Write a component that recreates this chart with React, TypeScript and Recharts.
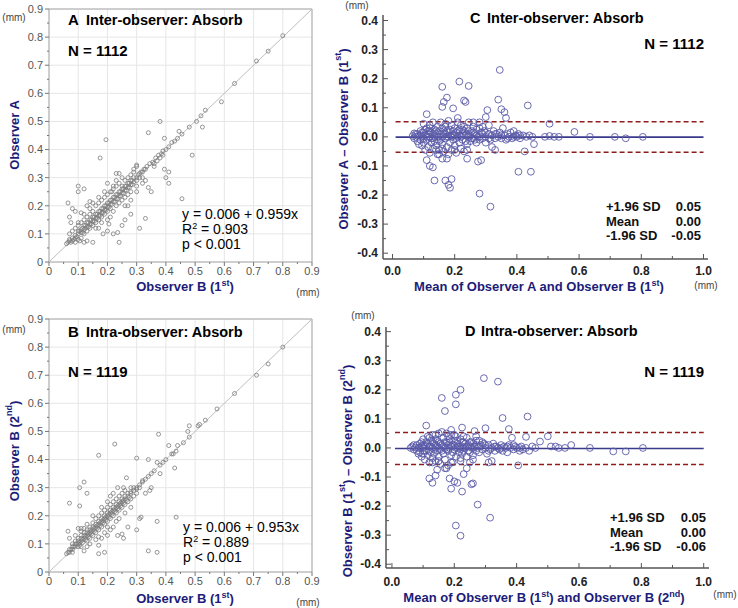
import {
  CartesianGrid,
  ReferenceArea,
  ReferenceLine,
  Scatter,
  ScatterChart,
  XAxis,
  YAxis,
} from "recharts";

// Panel A: x = Observer B (1st), y = Observer A  (mm)
const panelAPoints: [number, number][] = [
  [0.06, 0.065], [0.065, 0.07], [0.07, 0.075], [0.075, 0.07], [0.08, 0.085], [0.085, 0.08], [0.09, 0.095],
  [0.095, 0.09], [0.1, 0.1], [0.105, 0.11], [0.11, 0.105], [0.115, 0.12], [0.12, 0.115], [0.125, 0.13],
  [0.13, 0.125], [0.135, 0.14], [0.14, 0.135], [0.145, 0.15], [0.15, 0.145], [0.155, 0.16], [0.16, 0.155],
  [0.165, 0.17], [0.17, 0.165], [0.175, 0.18], [0.18, 0.175], [0.185, 0.19], [0.19, 0.185], [0.195, 0.2],
  [0.2, 0.195], [0.205, 0.21], [0.21, 0.205], [0.215, 0.22], [0.22, 0.215], [0.225, 0.23], [0.23, 0.225],
  [0.235, 0.24], [0.24, 0.235], [0.245, 0.25], [0.25, 0.245], [0.255, 0.26], [0.26, 0.255], [0.265, 0.27],
  [0.27, 0.265], [0.275, 0.28], [0.28, 0.275], [0.285, 0.29], [0.29, 0.285], [0.3, 0.3], [0.305, 0.31],
  [0.31, 0.315], [0.32, 0.32], [0.07, 0.1], [0.08, 0.11], [0.09, 0.12], [0.1, 0.13], [0.1, 0.08],
  [0.11, 0.14], [0.12, 0.1], [0.12, 0.15], [0.13, 0.16], [0.13, 0.11], [0.14, 0.17], [0.14, 0.12],
  [0.15, 0.18], [0.15, 0.13], [0.16, 0.2], [0.16, 0.14], [0.17, 0.21], [0.17, 0.15], [0.18, 0.22],
  [0.18, 0.16], [0.19, 0.23], [0.19, 0.17], [0.2, 0.24], [0.2, 0.18], [0.21, 0.25], [0.21, 0.19],
  [0.22, 0.26], [0.22, 0.18], [0.23, 0.27], [0.23, 0.2], [0.24, 0.28], [0.24, 0.21], [0.25, 0.27],
  [0.25, 0.22], [0.26, 0.29], [0.26, 0.23], [0.27, 0.3], [0.27, 0.24], [0.28, 0.31], [0.28, 0.25],
  [0.29, 0.32], [0.3, 0.34], [0.3, 0.27], [0.32, 0.3], [0.065, 0.21], [0.08, 0.19], [0.07, 0.16],
  [0.075, 0.14], [0.09, 0.18], [0.1, 0.27], [0.1, 0.25], [0.12, 0.26], [0.13, 0.2], [0.14, 0.215],
  [0.15, 0.21], [0.11, 0.175], [0.175, 0.37], [0.195, 0.435], [0.2, 0.28], [0.215, 0.25], [0.23, 0.315],
  [0.24, 0.315], [0.27, 0.2], [0.28, 0.17], [0.24, 0.07], [0.22, 0.1], [0.235, 0.105], [0.2, 0.11],
  [0.205, 0.135], [0.12, 0.07], [0.13, 0.075], [0.15, 0.07], [0.105, 0.075], [0.185, 0.1], [0.17, 0.12],
  [0.25, 0.13], [0.26, 0.15], [0.31, 0.12], [0.33, 0.155], [0.34, 0.265], [0.35, 0.25], [0.33, 0.29],
  [0.32, 0.28], [0.36, 0.34], [0.395, 0.33], [0.4, 0.3], [0.41, 0.32], [0.41, 0.28], [0.455, 0.225],
  [0.38, 0.5], [0.34, 0.46], [0.395, 0.44], [0.49, 0.38], [0.525, 0.48], [0.3, 0.345], [0.29, 0.33],
  [0.33, 0.33], [0.345, 0.35], [0.355, 0.355], [0.365, 0.37], [0.375, 0.38], [0.385, 0.385], [0.39, 0.395],
  [0.4, 0.4], [0.41, 0.41], [0.42, 0.425], [0.43, 0.43], [0.44, 0.44], [0.445, 0.465], [0.455, 0.455],
  [0.48, 0.48], [0.505, 0.5], [0.52, 0.52], [0.535, 0.54], [0.59, 0.57], [0.635, 0.635], [0.71, 0.715],
  [0.75, 0.75], [0.8, 0.805], [0.37, 0.36], [0.36, 0.35], [0.38, 0.37], [0.39, 0.38],
  [0.07, 0.08], [0.08, 0.075], [0.09, 0.085], [0.1, 0.11], [0.11, 0.115], [0.115, 0.105], [0.12, 0.13],
  [0.125, 0.12], [0.13, 0.14], [0.135, 0.125], [0.14, 0.15], [0.145, 0.135], [0.15, 0.16], [0.155, 0.145],
  [0.16, 0.17], [0.165, 0.155], [0.17, 0.18], [0.175, 0.165], [0.18, 0.19], [0.185, 0.175], [0.19, 0.2],
  [0.195, 0.185], [0.2, 0.21], [0.205, 0.195], [0.21, 0.22], [0.215, 0.205], [0.22, 0.23], [0.225, 0.215],
  [0.23, 0.24], [0.235, 0.225], [0.24, 0.25], [0.245, 0.235], [0.25, 0.26], [0.255, 0.245], [0.26, 0.27],
  [0.265, 0.255], [0.27, 0.28], [0.275, 0.265], [0.28, 0.29], [0.285, 0.275], [0.29, 0.3], [0.3, 0.29],
  [0.31, 0.3], [0.315, 0.32], [0.325, 0.33], [0.335, 0.34], [0.14, 0.19], [0.16, 0.12], [0.18, 0.14],
  [0.2, 0.15], [0.22, 0.27], [0.19, 0.25], [0.25, 0.3], [0.26, 0.2], [0.12, 0.17], [0.1, 0.14], [0.09, 0.07],
  [0.11, 0.085], [0.17, 0.23], [0.23, 0.29], [0.28, 0.22], [0.3, 0.25], [0.21, 0.16],
];

// Panel B: x = Observer B (1st), y = Observer B (2nd)  (mm)
const panelBPoints: [number, number][] = [
  [0.06, 0.065], [0.065, 0.07], [0.07, 0.07], [0.075, 0.08], [0.08, 0.08], [0.085, 0.09], [0.09, 0.09],
  [0.095, 0.1], [0.1, 0.1], [0.105, 0.105], [0.11, 0.11], [0.115, 0.115], [0.12, 0.12], [0.125, 0.125],
  [0.13, 0.13], [0.135, 0.135], [0.14, 0.14], [0.145, 0.145], [0.15, 0.15], [0.155, 0.155], [0.16, 0.16],
  [0.165, 0.165], [0.17, 0.17], [0.175, 0.175], [0.18, 0.18], [0.185, 0.185], [0.19, 0.19], [0.195, 0.195],
  [0.2, 0.2], [0.205, 0.205], [0.21, 0.21], [0.215, 0.215], [0.22, 0.22], [0.225, 0.225], [0.23, 0.23],
  [0.235, 0.235], [0.24, 0.24], [0.245, 0.245], [0.25, 0.25], [0.255, 0.255], [0.26, 0.26], [0.27, 0.27],
  [0.28, 0.28], [0.29, 0.29], [0.3, 0.3], [0.31, 0.31], [0.32, 0.32], [0.33, 0.33], [0.34, 0.34],
  [0.08, 0.1], [0.09, 0.11], [0.1, 0.12], [0.11, 0.13], [0.12, 0.14], [0.12, 0.155], [0.13, 0.15],
  [0.13, 0.11], [0.14, 0.16], [0.14, 0.12], [0.15, 0.175], [0.15, 0.13], [0.16, 0.19], [0.16, 0.14],
  [0.17, 0.2], [0.17, 0.15], [0.18, 0.21], [0.18, 0.16], [0.19, 0.22], [0.19, 0.17], [0.2, 0.23],
  [0.2, 0.18], [0.21, 0.24], [0.21, 0.19], [0.22, 0.25], [0.22, 0.2], [0.23, 0.26], [0.23, 0.21],
  [0.24, 0.27], [0.24, 0.22], [0.25, 0.28], [0.25, 0.23], [0.26, 0.29], [0.26, 0.24], [0.27, 0.25],
  [0.28, 0.3], [0.28, 0.26], [0.29, 0.27], [0.3, 0.28], [0.08, 0.09], [0.1, 0.155], [0.11, 0.155],
  [0.065, 0.145], [0.07, 0.12], [0.07, 0.245], [0.105, 0.235], [0.12, 0.32], [0.105, 0.3], [0.13, 0.28],
  [0.09, 0.13], [0.1, 0.09], [0.11, 0.09], [0.12, 0.075], [0.13, 0.09], [0.14, 0.1], [0.17, 0.065],
  [0.19, 0.07], [0.17, 0.095], [0.18, 0.12], [0.19, 0.14], [0.2, 0.13], [0.21, 0.15], [0.22, 0.16],
  [0.2, 0.25], [0.21, 0.27], [0.235, 0.3], [0.255, 0.3], [0.265, 0.335], [0.17, 0.415], [0.225, 0.455],
  [0.235, 0.13], [0.25, 0.135], [0.255, 0.12], [0.27, 0.16], [0.3, 0.15], [0.31, 0.19], [0.315, 0.195],
  [0.37, 0.18], [0.435, 0.195], [0.34, 0.075], [0.37, 0.07], [0.33, 0.28], [0.345, 0.29], [0.35, 0.3],
  [0.3, 0.405], [0.34, 0.4], [0.375, 0.49], [0.38, 0.35], [0.43, 0.37], [0.37, 0.39], [0.36, 0.36],
  [0.35, 0.35], [0.38, 0.38], [0.39, 0.39], [0.4, 0.4], [0.41, 0.45], [0.42, 0.42], [0.425, 0.42],
  [0.435, 0.43], [0.44, 0.45], [0.46, 0.46], [0.475, 0.5], [0.48, 0.52], [0.48, 0.48], [0.51, 0.52],
  [0.515, 0.525], [0.535, 0.54], [0.575, 0.58], [0.635, 0.635], [0.71, 0.7], [0.75, 0.74], [0.8, 0.8],
  [0.07, 0.08], [0.08, 0.07], [0.09, 0.1], [0.1, 0.11], [0.105, 0.095], [0.11, 0.12], [0.115, 0.105],
  [0.12, 0.13], [0.125, 0.115], [0.13, 0.14], [0.135, 0.125], [0.14, 0.15], [0.145, 0.135], [0.15, 0.16],
  [0.155, 0.145], [0.16, 0.17], [0.165, 0.155], [0.17, 0.18], [0.175, 0.165], [0.18, 0.19], [0.185, 0.175],
  [0.19, 0.2], [0.195, 0.185], [0.2, 0.21], [0.205, 0.195], [0.21, 0.22], [0.215, 0.205], [0.22, 0.23],
  [0.225, 0.215], [0.23, 0.24], [0.235, 0.225], [0.24, 0.25], [0.245, 0.235], [0.25, 0.26], [0.255, 0.245],
  [0.26, 0.27], [0.265, 0.255], [0.27, 0.28], [0.275, 0.265], [0.28, 0.285], [0.29, 0.3], [0.3, 0.295],
  [0.31, 0.3], [0.32, 0.325], [0.15, 0.2], [0.17, 0.125], [0.2, 0.16], [0.23, 0.18], [0.24, 0.19],
  [0.26, 0.21], [0.18, 0.23], [0.22, 0.28], [0.13, 0.17], [0.11, 0.145], [0.16, 0.115], [0.28, 0.23],
];

// Panel C: x = mean of Observer A and Observer B (1st), y = difference  (mm)
const panelCPoints: [number, number][] = [
  [0.065, 0.003], [0.07, -0.005], [0.07, 0.012], [0.075, 0.0], [0.08, -0.015], [0.08, 0.01], [0.085, 0.005],
  [0.085, -0.025], [0.09, 0.02], [0.09, -0.01], [0.095, 0.0], [0.095, -0.03], [0.1, 0.045], [0.1, 0.015],
  [0.1, -0.02], [0.105, -0.045], [0.105, 0.005], [0.11, 0.03], [0.11, -0.01], [0.115, 0.02], [0.115, -0.035],
  [0.12, 0.0], [0.12, 0.04], [0.12, -0.055], [0.125, 0.015], [0.125, -0.02], [0.13, 0.05], [0.13, -0.005],
  [0.13, -0.04], [0.135, 0.025], [0.135, -0.015], [0.14, 0.01], [0.14, -0.03], [0.145, 0.035], [0.145, -0.06],
  [0.15, 0.0], [0.15, 0.02], [0.15, -0.045], [0.155, 0.05], [0.155, -0.01], [0.16, 0.03], [0.16, -0.025],
  [0.165, 0.01], [0.165, -0.05], [0.17, 0.045], [0.17, -0.005], [0.175, 0.02], [0.175, -0.035], [0.18, 0.055],
  [0.18, 0.0], [0.18, -0.06], [0.185, 0.025], [0.185, -0.02], [0.19, 0.04], [0.19, -0.045], [0.195, 0.005],
  [0.195, -0.01], [0.2, 0.03], [0.2, -0.03], [0.205, 0.015], [0.205, -0.055], [0.21, 0.05], [0.21, 0.0],
  [0.215, -0.02], [0.215, 0.025], [0.22, 0.04], [0.22, -0.04], [0.225, 0.01], [0.225, -0.01], [0.23, 0.02],
  [0.23, -0.05], [0.235, 0.005], [0.24, 0.03], [0.24, -0.025], [0.245, 0.05], [0.245, 0.0], [0.25, -0.015],
  [0.255, 0.02], [0.26, -0.005], [0.26, 0.035], [0.265, 0.01], [0.27, -0.02], [0.27, 0.025], [0.275, 0.0],
  [0.28, 0.03], [0.28, -0.01], [0.285, 0.015], [0.29, -0.005], [0.295, 0.02], [0.3, 0.0], [0.3, -0.02],
  [0.31, 0.01], [0.31, 0.04], [0.315, -0.01], [0.32, 0.005], [0.32, -0.035], [0.325, 0.02], [0.33, -0.005],
  [0.33, -0.045], [0.335, 0.01], [0.34, 0.0], [0.345, 0.015], [0.35, -0.005], [0.355, 0.03], [0.36, 0.005],
  [0.365, -0.01], [0.37, 0.01], [0.375, 0.0], [0.38, 0.015], [0.385, -0.005], [0.39, 0.02], [0.395, 0.005],
  [0.4, 0.0], [0.405, 0.01], [0.41, -0.005], [0.42, 0.005], [0.43, 0.0], [0.44, 0.005], [0.45, 0.0],
  [0.345, 0.23], [0.215, 0.19], [0.245, 0.175], [0.16, 0.172], [0.175, 0.135], [0.165, 0.12], [0.16, 0.103],
  [0.23, 0.125], [0.235, 0.12], [0.195, 0.098], [0.34, 0.128], [0.35, 0.095], [0.36, 0.085], [0.365, 0.065],
  [0.305, 0.092], [0.3, 0.068], [0.435, 0.108], [0.11, 0.078], [0.21, 0.065], [0.505, 0.045], [0.585, 0.017],
  [0.635, 0.0], [0.715, 0.0], [0.75, -0.005], [0.805, 0.0], [0.535, 0.0], [0.52, 0.0], [0.505, 0.003],
  [0.49, 0.0], [0.455, -0.025], [0.425, -0.05], [0.405, -0.12], [0.445, -0.12], [0.28, -0.195],
  [0.315, -0.24], [0.275, -0.085], [0.285, -0.08], [0.24, -0.075], [0.18, -0.165], [0.185, -0.175],
  [0.17, -0.15], [0.19, -0.145], [0.135, -0.15], [0.13, -0.105], [0.12, -0.1], [0.11, -0.08], [0.16, -0.075],
  [0.175, -0.075], [0.15, -0.06],
  [0.075, 0.01], [0.09, 0.005], [0.095, 0.015], [0.1, -0.005], [0.105, 0.025], [0.11, 0.0], [0.115, 0.01],
  [0.12, 0.02], [0.125, -0.005], [0.13, 0.01], [0.135, 0.0], [0.14, 0.02], [0.145, 0.0], [0.15, -0.015],
  [0.155, 0.01], [0.16, 0.0], [0.165, 0.02], [0.17, 0.01], [0.175, 0.0], [0.18, 0.015], [0.185, 0.005],
  [0.19, 0.0], [0.195, 0.02], [0.2, 0.005], [0.205, -0.005], [0.21, 0.02], [0.215, 0.005], [0.22, 0.0],
  [0.225, 0.025], [0.23, 0.005], [0.235, -0.015], [0.24, 0.01], [0.245, 0.02], [0.25, 0.005], [0.255, -0.005],
  [0.26, 0.015], [0.265, -0.01], [0.27, 0.005], [0.28, 0.0], [0.29, 0.01], [0.3, 0.015], [0.31, -0.005],
  [0.33, 0.01], [0.35, 0.005], [0.37, -0.005], [0.39, 0.0], [0.41, 0.005], [0.14, -0.045], [0.16, -0.04],
  [0.2, -0.045], [0.24, -0.045], [0.12, 0.03], [0.17, 0.035], [0.23, 0.035], [0.26, 0.05], [0.28, 0.05],
  [0.29, 0.035],
];

// Panel D: x = mean of Observer B (1st) and (2nd), y = difference  (mm)
const panelDPoints: [number, number][] = [
  [0.06, 0.0], [0.065, 0.005], [0.07, -0.005], [0.075, 0.002], [0.08, 0.01], [0.08, -0.01], [0.085, 0.0],
  [0.085, -0.02], [0.09, 0.015], [0.09, -0.015], [0.095, 0.005], [0.095, -0.03], [0.1, 0.03], [0.1, 0.0],
  [0.1, -0.02], [0.105, 0.01], [0.105, -0.04], [0.11, 0.02], [0.11, -0.01], [0.115, 0.04], [0.115, -0.025],
  [0.12, 0.005], [0.12, -0.05], [0.125, 0.025], [0.125, -0.015], [0.13, 0.045], [0.13, 0.0], [0.13, -0.035],
  [0.135, 0.015], [0.135, -0.02], [0.14, 0.03], [0.14, -0.045], [0.145, 0.005], [0.145, -0.01], [0.15, 0.05],
  [0.15, 0.02], [0.15, -0.03], [0.155, -0.005], [0.155, -0.055], [0.16, 0.055], [0.16, 0.01], [0.165, -0.02],
  [0.165, 0.035], [0.17, 0.0], [0.17, -0.04], [0.175, 0.05], [0.175, 0.02], [0.18, -0.01], [0.18, -0.06],
  [0.185, 0.03], [0.185, 0.0], [0.19, -0.025], [0.19, 0.045], [0.195, 0.01], [0.195, -0.05], [0.2, 0.025],
  [0.2, -0.005], [0.205, 0.04], [0.205, -0.03], [0.21, 0.0], [0.21, 0.015], [0.215, -0.015], [0.22, 0.03],
  [0.22, -0.045], [0.225, 0.005], [0.225, -0.02], [0.23, 0.02], [0.23, -0.01], [0.235, 0.0], [0.24, 0.035],
  [0.24, -0.03], [0.245, 0.01], [0.25, -0.015], [0.25, 0.02], [0.255, 0.0], [0.26, -0.025], [0.26, 0.015],
  [0.265, 0.005], [0.27, -0.01], [0.27, 0.025], [0.275, 0.0], [0.28, -0.015], [0.285, 0.01], [0.29, -0.005],
  [0.295, 0.015], [0.3, 0.0], [0.305, -0.02], [0.31, 0.01], [0.315, -0.005], [0.32, 0.0], [0.325, 0.015],
  [0.33, -0.01], [0.335, 0.005], [0.34, 0.0], [0.345, -0.005], [0.35, 0.01], [0.355, -0.01], [0.36, 0.005],
  [0.365, 0.0], [0.37, -0.015], [0.375, 0.01], [0.38, 0.0], [0.39, -0.005], [0.395, 0.005], [0.4, 0.0],
  [0.41, -0.01], [0.415, 0.005], [0.42, -0.005], [0.43, 0.0], [0.44, -0.01], [0.45, 0.005], [0.46, 0.0],
  [0.295, 0.24], [0.34, 0.228], [0.22, 0.2], [0.205, 0.183], [0.16, 0.172], [0.205, 0.15], [0.17, 0.127],
  [0.355, 0.103], [0.435, 0.108], [0.11, 0.077], [0.3, 0.068], [0.225, 0.07], [0.19, 0.062], [0.265, 0.058],
  [0.375, 0.065], [0.385, 0.035], [0.43, 0.038], [0.5, 0.04], [0.475, 0.022], [0.575, 0.01], [0.635, 0.0],
  [0.71, -0.012], [0.75, -0.012], [0.805, 0.0], [0.51, 0.005], [0.525, 0.005], [0.535, 0.0], [0.555, 0.0],
  [0.405, -0.06], [0.32, -0.045], [0.31, -0.05], [0.275, -0.195], [0.315, -0.24], [0.205, -0.267],
  [0.22, -0.302], [0.225, -0.15], [0.255, -0.125], [0.26, -0.122], [0.19, -0.14], [0.185, -0.105],
  [0.2, -0.115], [0.21, -0.12], [0.23, -0.09], [0.12, -0.105], [0.13, -0.12], [0.14, -0.095], [0.145, -0.075],
  [0.17, -0.07], [0.175, -0.07], [0.24, -0.07], [0.25, -0.05],
  [0.07, 0.01], [0.09, 0.0], [0.095, 0.02], [0.1, 0.01], [0.105, -0.01], [0.11, 0.005], [0.115, 0.015],
  [0.12, -0.01], [0.125, 0.005], [0.13, 0.02], [0.135, -0.005], [0.14, 0.01], [0.145, 0.025], [0.15, 0.0],
  [0.155, 0.015], [0.16, -0.01], [0.165, 0.005], [0.17, 0.02], [0.175, -0.005], [0.18, 0.01], [0.185, 0.02],
  [0.19, 0.005], [0.195, -0.015], [0.2, 0.01], [0.205, 0.0], [0.21, 0.025], [0.215, 0.005], [0.22, -0.005],
  [0.225, 0.02], [0.23, 0.0], [0.235, 0.015], [0.24, 0.005], [0.245, -0.01], [0.25, 0.005], [0.255, 0.02],
  [0.26, 0.0], [0.27, 0.01], [0.28, 0.005], [0.29, 0.02], [0.3, 0.01], [0.31, -0.01], [0.33, 0.005],
  [0.35, 0.0], [0.37, 0.005], [0.39, 0.01], [0.41, 0.0], [0.13, -0.05], [0.15, -0.045], [0.19, -0.05],
  [0.22, -0.035], [0.26, -0.04], [0.12, 0.035], [0.14, 0.045], [0.18, 0.04], [0.2, 0.045], [0.23, 0.04],
  [0.27, 0.04], [0.28, 0.025],
];

const scatterTicks = [0, 0.05, 0.1, 0.15, 0.2, 0.25, 0.3, 0.35, 0.4, 0.45, 0.5, 0.55, 0.6, 0.65, 0.7, 0.75, 0.8, 0.85, 0.9];
const scatterGrid = [0, 0.1, 0.2, 0.3, 0.4, 0.5, 0.6, 0.7, 0.8, 0.9];
const diffTicks = [-0.4, -0.35, -0.3, -0.25, -0.2, -0.15, -0.1, -0.05, 0, 0.05, 0.1, 0.15, 0.2, 0.25, 0.3, 0.35, 0.4];
const meanTicks = [0, 0.1, 0.2, 0.3, 0.4, 0.5, 0.6, 0.7, 0.8, 0.9, 1.0];

// limits of agreement: [upper, mean, lower]
const panelCLimits = [0.052, -0.001, -0.053];
const panelDLimits = [0.053, -0.002, -0.057];

const NAVY = "#1c1c78";
const FONT = "'Liberation Sans', Arial, sans-serif";

const toObjs = (pts: [number, number][]) => pts.map(([x, y]) => ({ x, y }));
const isMult = (v: number, step: number) => Math.abs(Math.round(v / step) * step - v) < 1e-6;

function ScatterTickY(p: any) {
  const v = p.payload.value;
  const major = isMult(v, 0.1);
  return (
    <g>
      <line x1={p.x + 6} x2={p.x + 6 - (major ? 4 : 2)} y1={p.y} y2={p.y} stroke="#777" />
      {major && (
        <text x={p.x} y={p.y} dy="0.35em" textAnchor="end" fontSize={11} fill="#555" fontFamily={FONT}>
          {v === 0 ? "0" : v.toFixed(1)}
        </text>
      )}
    </g>
  );
}

function ScatterTickX(p: any) {
  const v = p.payload.value;
  const major = isMult(v, 0.1);
  return (
    <g>
      <line x1={p.x} x2={p.x} y1={p.y - 5} y2={p.y - 5 + (major ? 4 : 2)} stroke="#777" />
      {major && (
        <text x={p.x} y={p.y} dy="0.71em" textAnchor="middle" fontSize={11} fill="#555" fontFamily={FONT}>
          {v === 0 ? "0" : v.toFixed(1)}
        </text>
      )}
    </g>
  );
}

function DiffTickY(p: any) {
  const v = p.payload.value;
  const major = isMult(v, 0.1);
  return (
    <g>
      <line x1={p.x + 5} x2={p.x + 5 + (major ? 5 : 3)} y1={p.y} y2={p.y} stroke="#555" />
      {major && (
        <text x={p.x} y={p.y} dy="0.35em" textAnchor="end" fontSize={12} fontWeight="bold" fill="#222" fontFamily={FONT}>
          {v.toFixed(1)}
        </text>
      )}
    </g>
  );
}

function makeDiffTickX(margin: number) {
  return function DiffTickX(p: any) {
    const v = p.payload.value;
    const major = isMult(v, 0.2);
    return (
      <g>
        <line x1={p.x} x2={p.x} y1={p.y - margin} y2={p.y - margin - (major ? 5 : 3)} stroke="#555" />
        {major && (
          <text x={p.x} y={p.y} dy="0.71em" textAnchor="middle" fontSize={12} fontWeight="bold" fill="#222" fontFamily={FONT}>
            {v.toFixed(1)}
          </text>
        )}
      </g>
    );
  };
}

const grayDot = (p: any) => (
  <circle cx={p.cx} cy={p.cy} r={2} fill="#fff" fillOpacity={0} stroke="#7c7c7c" strokeWidth={0.8} />
);
const blueDot = (p: any) => (
  <circle cx={p.cx} cy={p.cy} r={3.4} fill="#fff" fillOpacity={0} stroke="#5a5aa8" strokeWidth={0.9} />
);

function IdentityPanel({ points, top, height, marginTop, xAxisHeight }: any) {
  return (
    <div style={{ position: "absolute", left: 0, top }}>
      <ScatterChart width={330} height={height} margin={{ top: marginTop, right: 18, bottom: 0, left: 0 }}>
        <CartesianGrid stroke="#e6e6e6" horizontalValues={scatterGrid} verticalValues={scatterGrid} />
        <ReferenceArea x1={0} x2={0.9} y1={0} y2={0.9} fill="#fff" fillOpacity={0} stroke="#a8a8a8" />
        <ReferenceLine segment={[{ x: 0, y: 0 }, { x: 0.9, y: 0.9 }]} stroke="#bdbdbd" />
        <XAxis type="number" dataKey="x" domain={[0, 0.9]} ticks={scatterTicks} interval={0}
          axisLine={false} tickLine={false} tickSize={0} tickMargin={5} height={xAxisHeight} tick={ScatterTickX} />
        <YAxis type="number" dataKey="y" domain={[0, 0.9]} ticks={scatterTicks} interval={0}
          axisLine={false} tickLine={false} tickSize={0} tickMargin={6} width={49} tick={ScatterTickY} />
        <Scatter data={toObjs(points)} shape={grayDot} isAnimationActive={false} />
      </ScatterChart>
    </div>
  );
}

function DiffPanel({ points, limits, top, height, marginTop, marginRight, yWidth, xAxisHeight, xDomain, yDomain, xTickMargin }: any) {
  return (
    <div style={{ position: "absolute", left: 330, top }}>
      <ScatterChart width={408} height={height} margin={{ top: marginTop, right: marginRight, bottom: 0, left: 0 }}>
        <XAxis type="number" dataKey="x" domain={xDomain} ticks={meanTicks} interval={0}
          axisLine={{ stroke: "#555", strokeWidth: 1.5 }} tickLine={false} tickSize={0} tickMargin={xTickMargin}
          height={xAxisHeight} tick={makeDiffTickX(xTickMargin)} allowDataOverflow />
        <YAxis type="number" dataKey="y" domain={yDomain} ticks={diffTicks} interval={0}
          axisLine={{ stroke: "#555", strokeWidth: 1.5 }} tickLine={false} tickSize={0} tickMargin={5}
          width={yWidth} tick={DiffTickY} allowDataOverflow />
        <Scatter data={toObjs(points)} shape={blueDot} isAnimationActive={false} />
        <ReferenceLine segment={[{ x: 0.01, y: limits[1] }, { x: 1.0, y: limits[1] }]} stroke="#3a3a8c" strokeWidth={1.6} />
        <ReferenceLine segment={[{ x: 0.01, y: limits[0] }, { x: 1.0, y: limits[0] }]} stroke="#8e1c1c" strokeWidth={1.5} strokeDasharray="5 3" />
        <ReferenceLine segment={[{ x: 0.01, y: limits[2] }, { x: 1.0, y: limits[2] }]} stroke="#8e1c1c" strokeWidth={1.5} strokeDasharray="5 3" />
      </ScatterChart>
    </div>
  );
}

function Stats({ x, right, y, vals }: any) {
  const labels = ["+1.96 SD", "Mean", "-1.96 SD"];
  return (
    <g fontSize={13} fontWeight="bold" fill="#111">
      {labels.map((l, i) => (
        <g key={l}>
          <text x={x} y={y + i * 14.5}>{l}</text>
          <text x={right} y={y + i * 14.5} textAnchor="end">{vals[i]}</text>
        </g>
      ))}
    </g>
  );
}

export default function App() {
  return (
    <div style={{ position: "absolute", left: 0, top: 0, width: 738, height: 608, background: "#fff", overflow: "hidden", fontFamily: FONT }}>
      <IdentityPanel points={panelAPoints} top={0} height={300} marginTop={9} xAxisHeight={38} />
      <IdentityPanel points={panelBPoints} top={300} height={308} marginTop={19} xAxisHeight={36} />
      <DiffPanel points={panelCPoints} limits={panelCLimits} top={0} height={300} marginTop={15} marginRight={30}
        yWidth={53} xAxisHeight={41} xDomain={[-0.0305, 1.0145]} yDomain={[-0.42, 0.419]} xTickMargin={7} />
      <DiffPanel points={panelDPoints} limits={panelDLimits} top={300} height={308} marginTop={27} marginRight={29}
        yWidth={56} xAxisHeight={40} xDomain={[-0.019, 1.017]} yDomain={[-0.413, 0.416]} xTickMargin={9} />

      <svg width={738} height={608} style={{ position: "absolute", left: 0, top: 0, pointerEvents: "none" }} fontFamily={FONT}>
        {/* Panel A */}
        <text x={68} y={25} fontSize={15} fontWeight="bold">A</text>
        <text x={86} y={25} fontSize={14.5} fontWeight="bold">Inter-observer: Absorb</text>
        <text x={68} y={56} fontSize={15} fontWeight="bold">N = 1112</text>
        <text x={182} y={219} fontSize={14}>y = 0.006 + 0.959x</text>
        <text x={182} y={234} fontSize={14}>R<tspan dy={-5} fontSize={9}>2</tspan><tspan dy={5}> = 0.903</tspan></text>
        <text x={182} y={249} fontSize={14}>p &lt; 0.001</text>
        <text x={14} y={17} fontSize={10} fill="#444" textAnchor="middle" dominantBaseline="central">(mm)</text>
        <text x={308} y={292} fontSize={10} fill="#444" textAnchor="middle" dominantBaseline="central">(mm)</text>
        <text transform="translate(14,135) rotate(-90)" textAnchor="middle" dominantBaseline="central" fontSize={13} fontWeight="bold" fill={NAVY}>Observer A</text>
        <text x={185} y={291} textAnchor="middle" fontSize={13} fontWeight="bold" fill={NAVY}>
          Observer B (1<tspan dy={-5} fontSize={9}>st</tspan><tspan dy={5}>)</tspan>
        </text>

        {/* Panel B */}
        <text x={68} y={337} fontSize={15} fontWeight="bold">B</text>
        <text x={86} y={337} fontSize={14.5} fontWeight="bold">Intra-observer: Absorb</text>
        <text x={68} y={377} fontSize={15} fontWeight="bold">N = 1119</text>
        <text x={183} y={532} fontSize={14}>y = 0.006 + 0.953x</text>
        <text x={183} y={547} fontSize={14}>R<tspan dy={-5} fontSize={9}>2</tspan><tspan dy={5}> = 0.889</tspan></text>
        <text x={183} y={562} fontSize={14}>p &lt; 0.001</text>
        <text x={14} y={329} fontSize={10} fill="#444" textAnchor="middle" dominantBaseline="central">(mm)</text>
        <text x={308} y={602} fontSize={10} fill="#444" textAnchor="middle" dominantBaseline="central">(mm)</text>
        <text transform="translate(14,451) rotate(-90)" textAnchor="middle" dominantBaseline="central" fontSize={13} fontWeight="bold" fill={NAVY}>
          Observer B (2<tspan dy={-5} fontSize={9}>nd</tspan><tspan dy={5}>)</tspan>
        </text>
        <text x={185} y={603} textAnchor="middle" fontSize={13} fontWeight="bold" fill={NAVY}>
          Observer B (1<tspan dy={-5} fontSize={9}>st</tspan><tspan dy={5}>)</tspan>
        </text>

        {/* Panel C */}
        <text x={470} y={23} fontSize={14.5} fontWeight="bold">C</text>
        <text x={487} y={23} fontSize={14.5} fontWeight="bold">Inter-observer: Absorb</text>
        <text x={704} y={49} fontSize={15} fontWeight="bold" textAnchor="end">N = 1112</text>
        <Stats x={606} right={701} y={211} vals={["0.05", "0.00", "-0.05"]} />
        <text x={357} y={5} fontSize={10} fill="#444" textAnchor="middle" dominantBaseline="central">(mm)</text>
        <text x={706} y={285} fontSize={10} fill="#444" textAnchor="middle" dominantBaseline="central">(mm)</text>
        <text transform="translate(343,139) rotate(-90)" textAnchor="middle" dominantBaseline="central" fontSize={13} fontWeight="bold" fill={NAVY}>
          Observer A – Observer B (1<tspan dy={-5} fontSize={9}>st</tspan><tspan dy={5}>)</tspan>
        </text>
        <text x={539} y={291} textAnchor="middle" fontSize={13} fontWeight="bold" fill={NAVY}>
          Mean of Observer A and Observer B (1<tspan dy={-5} fontSize={9}>st</tspan><tspan dy={5}>)</tspan>
        </text>

        {/* Panel D */}
        <text x={465} y={336} fontSize={14.5} fontWeight="bold">D</text>
        <text x={481} y={336} fontSize={14.5} fontWeight="bold">Intra-observer: Absorb</text>
        <text x={704} y={377} fontSize={15} fontWeight="bold" textAnchor="end">N = 1119</text>
        <Stats x={610} right={706} y={522} vals={["0.05", "0.00", "-0.06"]} />
        <text x={363} y={315} fontSize={10} fill="#444" textAnchor="middle" dominantBaseline="central">(mm)</text>
        <text x={725} y={594} fontSize={10} fill="#444" textAnchor="middle" dominantBaseline="central">(mm)</text>
        <text transform="translate(347,471) rotate(-90)" textAnchor="middle" dominantBaseline="central" fontSize={13} fontWeight="bold" fill={NAVY}>
          Observer B (1<tspan dy={-5} fontSize={9}>st</tspan><tspan dy={5}>) – Observer B (2</tspan><tspan dy={-5} fontSize={9}>nd</tspan><tspan dy={5}>)</tspan>
        </text>
        <text x={544} y={602} textAnchor="middle" fontSize={13} fontWeight="bold" fill={NAVY}>
          Mean of Observer B (1<tspan dy={-5} fontSize={9}>st</tspan><tspan dy={5}>) and Observer B (2</tspan><tspan dy={-5} fontSize={9}>nd</tspan><tspan dy={5}>)</tspan>
        </text>
      </svg>
    </div>
  );
}
